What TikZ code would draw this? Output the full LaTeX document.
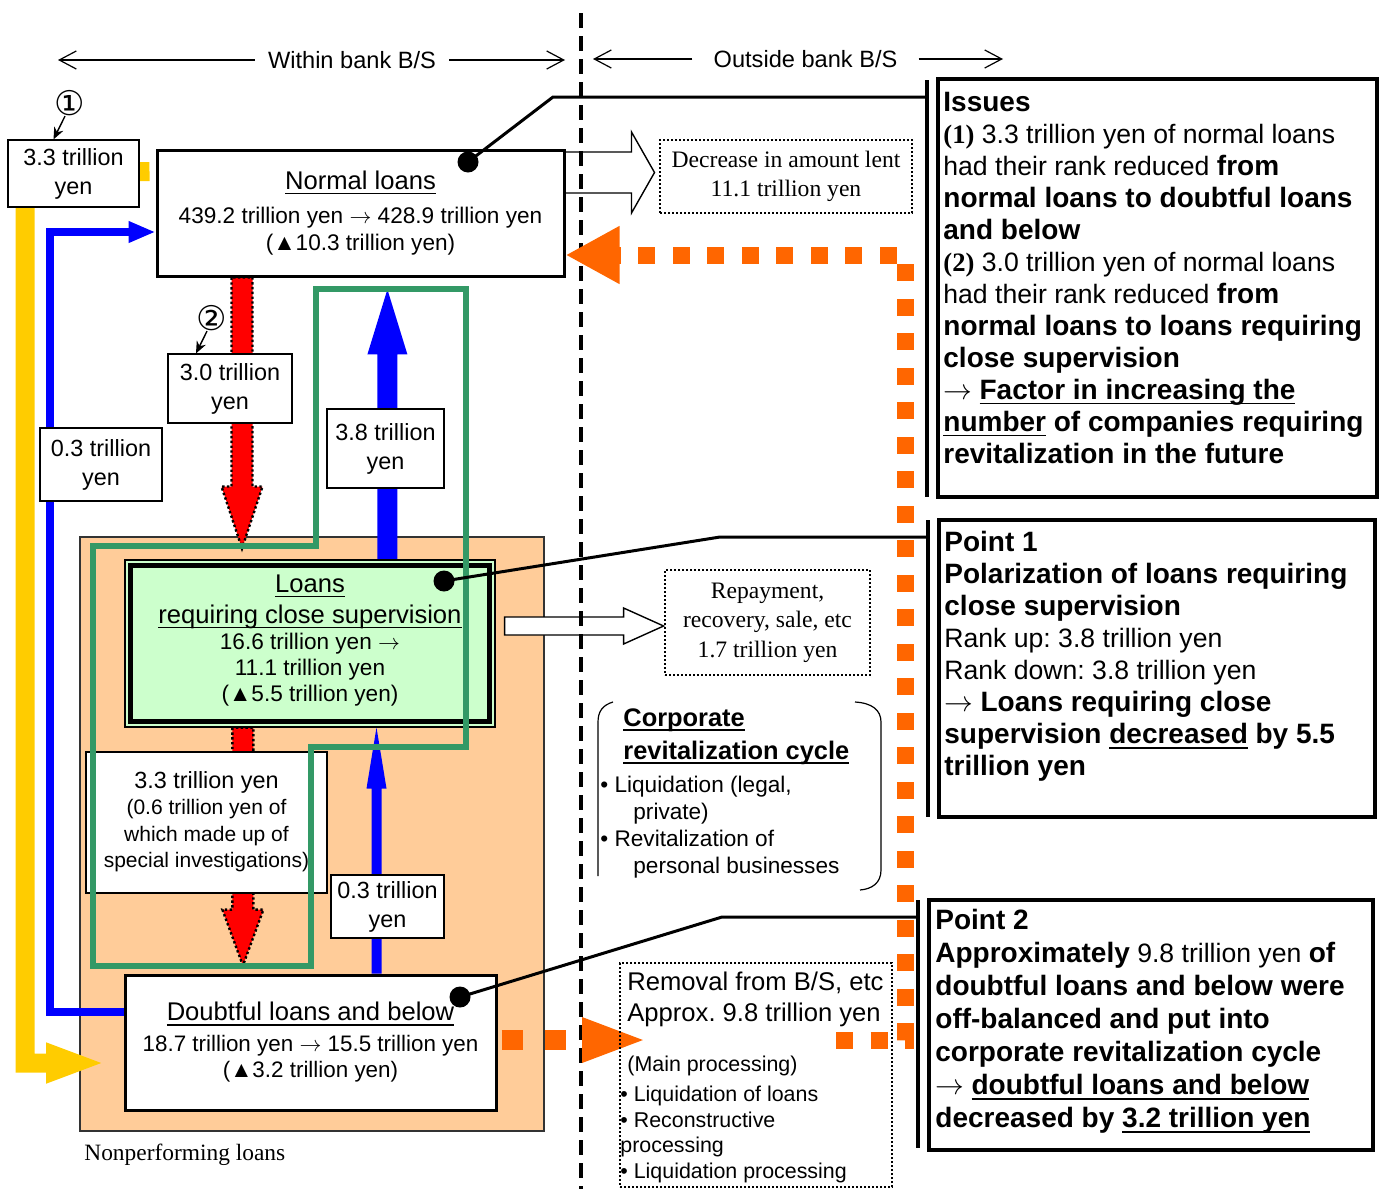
\documentclass[tikz,border=0pt]{standalone}
\usepackage{fontspec}
\setmainfont{Liberation Sans}
\newfontfamily\tms{Liberation Serif}
\newfontfamily\djv{DejaVu Sans}
\usetikzlibrary{arrows.meta,calc}
\frenchspacing
\definecolor{cOrange}{HTML}{FF6600}
\definecolor{cYellow}{HTML}{FFCC00}
\definecolor{cBlue}{HTML}{0000FF}
\definecolor{cRed}{HTML}{FF0000}
\definecolor{cGreen}{HTML}{339966}
\definecolor{cPeach}{HTML}{FFCC99}
\definecolor{cMint}{HTML}{CCFFCC}
\newcommand\myul[1]{\leavevmode\setbox0=\hbox{#1}\rlap{\rule[-2.4pt]{\wd0}{0.8pt}}\box0\relax}
\newcommand\bx[1]{{\bfseries\fontsize{14}{16}\selectfont #1}}
\newcommand\ttl[1]{{\fontsize{12.8}{13}\selectfont\myul{#1}}}
\newcommand\rarr{$\rightarrow$}
\pgfdeclarelayer{back}\pgfdeclarelayer{mid}\pgfdeclarelayer{front}
\pgfsetlayers{back,mid,main,front}
\tikzset{
  lbl/.style={draw=black, line width=0.6pt, fill=white, align=center, inner sep=0pt, font=\fontsize{11.7}{14.5}\selectfont},
  bigbox/.style={draw=black, line width=1.5pt, fill=white, inner sep=0pt},
  dotbox/.style={draw=black, line width=0.8pt, dash pattern=on 0.8pt off 1.2pt, inner sep=0pt},
  sidebox/.style={draw=black, line width=1.8pt, fill=white, inner sep=0pt},
  sidetext/.style={anchor=north west, inner sep=0pt, align=left},
  sidebar/.style={line width=2pt},
  leader/.style={line width=1.5pt},
  blackdot/.style={circle, fill=black, inner sep=0pt, minimum size=10.5pt},
  hdrarrow/.style={line width=0.6pt, -{Straight Barb[length=8.5pt,width=9pt]}},
  hdrtext/.style={font=\fontsize{11.8}{14}\selectfont, inner ysep=0pt},
  blockarrow/.style={draw=black, line width=0.7pt, fill=white},
  redarrow/.style={fill=cRed, draw=black, line width=1.2pt, dash pattern=on 1.2pt off 1.2pt},
  bluearrow/.style={fill=cBlue},
  circnum/.style={font=\djv\fontsize{17}{17}\selectfont, inner sep=0pt},
  smallarrow/.style={line width=0.7pt, -{Stealth[length=6pt,width=5pt]}},
}
\begin{document}
\begin{tikzpicture}[x=0.5pt,y=-0.5pt]
\useasboundingbox (0,0) rectangle (1384,1189);

% ---------- header ----------
\node[hdrtext, inner xsep=6.5pt] (hdrW) at (352,60) {Within bank B/S};
\coordinate (hdrWL) at (58,60);
\coordinate (hdrWR) at (565,60);
\draw[hdrarrow] (hdrW.west) -- (hdrWL);
\draw[hdrarrow] (hdrW.east) -- (hdrWR);
\node[hdrtext, inner xsep=10.5pt] (hdrO) at (805.5,59) {Outside bank B/S};
\coordinate (hdrOL) at (593,59);
\coordinate (hdrOR) at (1003,59);
\draw[hdrarrow] (hdrO.west) -- (hdrOL);
\draw[hdrarrow] (hdrO.east) -- (hdrOR);

% ---------- main boxes ----------
\node[lbl, minimum width=65.5pt, minimum height=33.5pt] (A1) at (73.5,173.5) {3.3 trillion\\yen};
\node[bigbox, minimum width=203.5pt, minimum height=63pt, align=center, font=\fontsize{11.3}{13.5}\selectfont] (NL) at (360.5,213)
  {\ttl{Normal loans}\\[3.5pt]439.2 trillion yen \rarr{} 428.9 trillion yen\\(▲10.3 trillion yen)};
\node[lbl, minimum width=62pt, minimum height=34.5pt] (B30) at (230,388.5) {3.0 trillion\\yen};
\node[lbl, minimum width=61pt, minimum height=36.5pt] (B03L) at (101,464.5) {0.3 trillion\\yen};
\node[lbl, minimum width=58.5pt, minimum height=39.5pt] (B38) at (385.5,448.5) {3.8 trillion\\yen};

\node[draw=black, line width=0.6pt, fill=cMint, minimum width=185pt, minimum height=83.5pt, inner sep=0pt] (LR) at (310,643.5) {};
\draw[line width=2.8pt] ($(LR.south west)+(6,-6)$) rectangle ($(LR.north east)+(-6,6)$);
\node[align=center, inner sep=0pt, font=\fontsize{11.3}{13}\selectfont] (LRt) at (310,640.5)
  {\ttl{Loans}\\[2.5pt]\ttl{requiring close supervision}\\16.6 trillion yen \rarr\\11.1 trillion yen\\(▲5.5 trillion yen)};

\node[lbl, minimum width=120.5pt, minimum height=70.5pt, font=\fontsize{10.5}{13.3}\selectfont] (B33) at (206.5,822.5)
  {{\fontsize{11.7}{13.3}\selectfont 3.3 trillion yen}\\(0.6 trillion yen of\\which made up of\\special investigations)\rule[-3pt]{0pt}{1pt}};
\node[lbl, minimum width=56.5pt, minimum height=31.5pt] (B03R) at (387.5,906.5) {0.3 trillion\\yen};

\node[bigbox, minimum width=185.5pt, minimum height=67.5pt, align=center, font=\fontsize{11.2}{13}\selectfont] (DB) at (310.5,1042.5)
  {\ttl{Doubtful loans and below}\\[2.5pt]18.7 trillion yen \rarr{} 15.5 trillion yen\\(▲3.2 trillion yen)};

\node[font=\tms\fontsize{11.7}{14}\selectfont, anchor=west, inner sep=0pt] (npl) at (84,1155) {Nonperforming loans};

% ---------- outside boxes ----------
\node[dotbox, minimum width=126pt, minimum height=36.5pt, align=center, font=\tms\fontsize{11.8}{14.5}\selectfont] (DEC) at (786,176.5)
  {Decrease in amount lent\\11.1 trillion yen};
\node[dotbox, minimum width=102.5pt, minimum height=52.5pt, align=center, font=\tms\fontsize{11.8}{14.75}\selectfont] (REP) at (767.5,622.5)
  {Repayment,\\recovery, sale, etc\\1.7 trillion yen};
\node[dotbox, minimum width=136pt, minimum height=112pt] (RM) at (756,1075) {};
\node[sidetext, font=\fontsize{12.8}{15.5}\selectfont] (RMt1) at (627,972) {Removal from B/S, etc\\Approx. 9.8 trillion yen};
\node[sidetext, font=\fontsize{10.7}{12.8}\selectfont] (RMt2) at (620,1056)
  {\hspace*{3.5pt}(Main processing)\\[2pt]• Liquidation of loans\\• Reconstructive\\processing\\• Liquidation processing};

% corporate revitalization cycle
\draw[line width=0.6pt] (613,702) .. controls (603,705) and (598,711) .. (598,722) -- (598,876);
\draw[line width=0.6pt] (855,702) .. controls (872,703) and (881,710) .. (881,722) -- (881,870) .. controls (881,883) and (872,889) .. (860,890);
\node[sidetext, font=\bfseries\fontsize{12.7}{16.5}\selectfont] (cycT) at (623,708) {\myul{Corporate}\\\myul{revitalization cycle}};
\node[sidetext, font=\fontsize{11.3}{13.5}\selectfont] (cycB) at (600,776)
  {• Liquidation (legal,\\\hspace*{16.5pt}private)\\• Revitalization of\\\hspace*{16.5pt}personal businesses};

% ---------- right boxes ----------
\node[sidebox, minimum width=219.5pt, minimum height=209pt] (ISS) at (1157.5,288) {};
\node[sidebox, minimum width=218pt, minimum height=148.5pt] (P1) at (1157,668.5) {};
\node[sidebox, minimum width=222pt, minimum height=125pt] (P2) at (1151,1025) {};
\coordinate (bar1t) at (927,80);  \coordinate (bar1b) at (927,497);
\coordinate (bar2t) at (928,520); \coordinate (bar2b) at (928,817);
\coordinate (bar3t) at (918,900); \coordinate (bar3b) at (918,1148);
\draw[sidebar] (bar1t) -- (bar1b);
\draw[sidebar] (bar2t) -- (bar2b);
\draw[sidebar] (bar3t) -- (bar3b);

\node[sidetext, font=\fontsize{13.3}{16}\selectfont] (ISt) at (943,92)
  {\bx{Issues}\\{\tms\bfseries(1)} 3.3 trillion yen of normal loans\\had their rank reduced \bx{from}\\\bx{normal loans to doubtful loans}\\\bx{and below}\\{\tms\bfseries(2)} 3.0 trillion yen of normal loans\\had their rank reduced \bx{from}\\\bx{normal loans to loans requiring}\\\bx{close supervision}\\\rarr{} \bx{\myul{Factor in increasing the}}\\\bx{\myul{number} of companies requiring}\\\bx{revitalization in the future}};
\node[sidetext, font=\fontsize{13.3}{16}\selectfont] (P1t) at (944,531)
  {\bx{Point 1}\\\bx{Polarization of loans requiring}\\\bx{close supervision}\\Rank up: 3.8 trillion yen\\Rank down: 3.8 trillion yen\\\rarr{} \bx{Loans requiring close}\\\bx{supervision \myul{decreased} by 5.5}\\\bx{trillion yen}};
\node[sidetext, font=\fontsize{13.3}{16.5}\selectfont] (P2t) at (935,909)
  {\bx{Point 2}\\\bx{Approximately} 9.8 trillion yen \bx{of}\\\bx{doubtful loans and below were}\\\bx{off-balanced and put into}\\\bx{corporate revitalization cycle}\\\rarr{} \bx{\myul{doubtful loans and below}}\\\bx{decreased by \myul{3.2 trillion yen}}};

% circled numbers
\node[circnum] (c1) at (70,103) {①};
\node[circnum] (c2) at (212,318) {②};
\draw[smallarrow] ($(c1.south)+(-5,0)$) -- ($(A1.north)+(-20,0)$);
\draw[smallarrow] ($(c2.south)+(-5,0)$) -- ($(B30.north)+(-34,0)$);

% ---------- back layer ----------
\begin{pgfonlayer}{back}
\node[draw=black!80, line width=0.6pt, fill=cPeach, minimum width=232pt, minimum height=297pt, inner sep=0pt] (NP) at (312,834) {};
\coordinate (decS) at ($(NL.east)+(0,-40.5)$);
\filldraw[blockarrow] (decS) ++(0,-20.5) -- ++(66,0) -- ++(0,-20) -- ++(23,40.5) -- ++(-23,40.5) -- ++(0,-20) -- ++(-66,0);
\coordinate (repS) at ($(LR.east)+(9,-17.5)$);
\filldraw[blockarrow] (repS) ++(0,-9) -- ++(119,0) -- ++(0,-9) -- ++(40,18) -- ++(-40,18) -- ++(0,-9) -- ++(-119,0) -- cycle;
\end{pgfonlayer}

% ---------- mid layer ----------
\begin{pgfonlayer}{mid}
\coordinate (vt) at (581,13); \coordinate (vb) at (581,1189);
\draw[line width=2pt, dash pattern=on 7.5pt off 4pt] (vt) -- (vb);
% yellow
\coordinate (yc1) at (25,173); \coordinate (yc2) at (25,1063); \coordinate (yTip) at (106,1063);
\draw[cYellow, line width=9.5pt, -{Triangle[length=30pt,width=18pt]}] ($(NL.north west)+(-6,23)$) -- (yc1) -- (yc2) -- (yTip);
% blue left
\coordinate (bc1) at (50,1012); \coordinate (bc2) at (50,232);
\draw[cBlue, line width=4pt, -{Triangle[length=13.5pt,width=10pt]}] (DB.west |- bc1) -- (bc1) -- (bc2) -- (bc2 -| NL.west);
% red arrows
\coordinate (r1s) at ($(NL.south west)+(86,0)$);
\filldraw[redarrow] (r1s) ++(-10,0) -- ++(0,209) -- ++(-10,0) -- ++(20.5,62) -- ++(20.5,-62) -- ++(-10,0) -- ++(0,-209) -- cycle;
\coordinate (r2s) at ($(LR.south west)+(118,0)$);
\filldraw[redarrow] (r2s) ++(-10,0) -- ++(0,182) -- ++(-10,0) -- ++(20.5,56) -- ++(20.5,-56) -- ++(-10,0) -- ++(0,-182) -- cycle;
% blue arrows
\coordinate (b1s) at ($(LR.north west)+(263,0)$);
\fill[bluearrow] (b1s) ++(-10,0) -- ++(0,-205) -- ++(-10,0) -- ++(20,-65) -- ++(20,65) -- ++(-10,0) -- ++(0,205) -- cycle;
\coordinate (b2s) at ($(DB.north west)+(253,0)$);
\fill[bluearrow] (b2s) ++(-5,0) -- ++(0,-185) -- ++(-5,0) -- ++(10,-61) -- ++(10,61) -- ++(-5,0) -- ++(0,185) -- cycle;
% orange
\coordinate (oc1) at (836,1040); \coordinate (oc2) at (905,1040); \coordinate (oc3) at (905,255);
\draw[cOrange, line width=8.5pt, dash pattern=on 8.5pt off 8.75pt, -{Triangle[length=27pt,width=27pt]}] (oc1) -- (oc2) -- (oc3) -- (oc3 -| NL.east);
\coordinate (rmTip) at (648,1040);
\draw[cOrange, line width=10pt, dash pattern=on 10.5pt off 11pt, -{Triangle[length=33pt,width=20pt]}] ($(DB.east)+(4,-2.5)$) -- (rmTip);
\end{pgfonlayer}

% ---------- front layer ----------
\begin{pgfonlayer}{front}
\draw[cGreen, line width=3pt] (93,546) -- (316,546) -- (316,289) -- (466,289) -- (466,747) -- (311,747) -- (311,966) -- (93,966) -- cycle;
\node[blackdot] (dNL) at (468,162) {};
\node[blackdot] (dLR) at (444,581) {};
\node[blackdot] (dDB) at (460,997) {};
\coordinate (k1) at (553,97);
\coordinate (k2) at (720,537);
\coordinate (k3) at (722,917);
\draw[leader] (dNL.center) -- (k1) -- (k1 -| bar1t);
\draw[leader] (dLR.center) -- (k2) -- (k2 -| bar2t);
\draw[leader] (dDB.center) -- (k3) -- (k3 -| bar3t);
\end{pgfonlayer}
\end{tikzpicture}
\end{document}
